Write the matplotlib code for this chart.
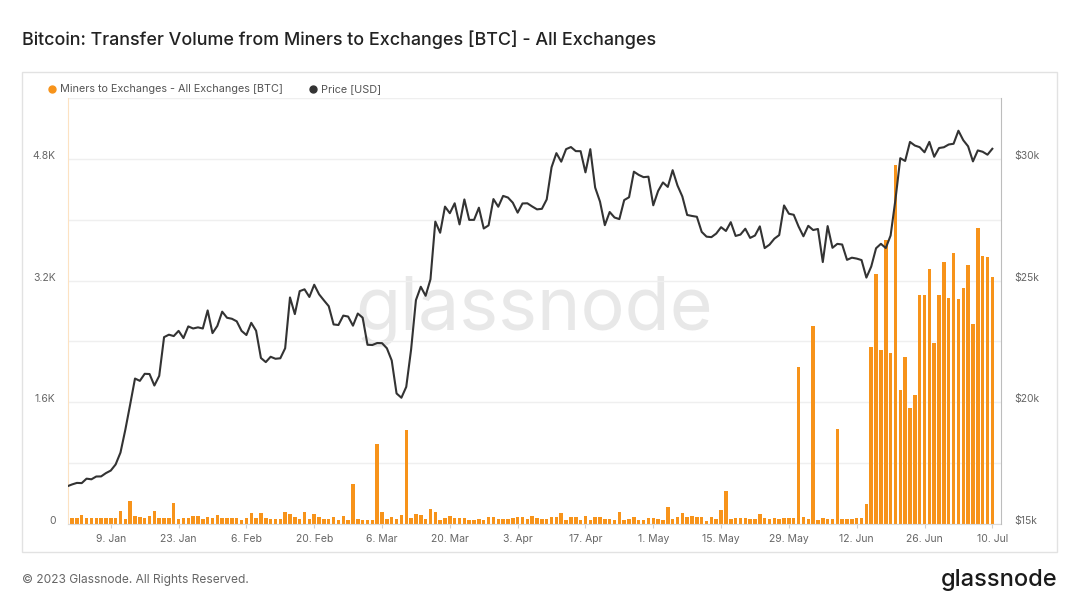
import datetime as dt

import matplotlib.pyplot as plt
from matplotlib.lines import Line2D
from matplotlib.patches import Rectangle
from matplotlib.transforms import ScaledTranslation

plt.rcParams['font.family'] = ['Inter', 'DejaVu Sans']

# daily transfer volume miners -> exchanges [BTC], 1 Jan .. 10 Jul 2023
flow_start = dt.date(2023, 1, 1)
miners_to_exchanges = [
    # Jan
    75, 75, 114, 75, 75, 75, 75, 75, 75, 75, 167, 62, 308, 105, 88, 75, 105, 176, 75, 75,
    75, 272, 62, 75, 75, 105, 105, 62, 88, 75, 114,
    # Feb
    75, 75, 75, 75, 53, 75, 149, 75, 141, 75, 62, 62, 62, 163, 127, 88, 62, 163, 62, 127,
    88, 62, 62, 88, 48, 105, 48, 523,
    # Mar
    62, 48, 48, 48, 1046, 154, 62, 88, 62, 114, 1234, 75, 132, 119, 66, 193, 154, 48, 75, 105,
    75, 75, 75, 48, 48, 62, 48, 88, 97, 62, 62,
    # Apr
    62, 75, 97, 88, 62, 105, 75, 62, 62, 88, 97, 141, 48, 97, 97, 48, 105, 48, 88, 97,
    62, 62, 48, 163, 48, 62, 88, 48, 48, 75,
    # May
    75, 62, 48, 224, 62, 97, 141, 88, 105, 88, 88, 40, 88, 62, 189, 439, 66, 75, 75, 75,
    66, 66, 132, 79, 66, 75, 66, 79, 79, 79, 2070,
    # Jun
    97, 66, 2600, 53, 79, 66, 66, 1250, 66, 66, 66, 79, 79, 264, 2324, 3290, 2289, 3738, 2254, 4714,
    1757, 2197, 1520, 1700, 3005, 3014, 3347, 2385, 3014, 3440,
    # Jul
    2965, 3558, 2956, 3097, 3405, 2623, 3892, 3528, 3514, 3251,
]

# daily price [USD], 31 Dec 2022 .. 10 Jul 2023
price_start = dt.date(2022, 12, 31)
price_usd = [
    16548,
    # Jan
    16625, 16688, 16680, 16863, 16836, 16951, 16955, 17091, 17196, 17446, 17934, 18869, 19909, 20976,
    20880, 21170, 21161, 20688, 21086, 22676, 22777, 22720, 22934, 22636, 23117, 23032, 23078, 23031,
    23774, 22841, 23139,
    # Feb
    23723, 23472, 23431, 23326, 22933, 22763, 23264, 22939, 21819, 21651, 21870, 21788, 21808, 22220,
    24307, 23623, 24565, 24641, 24327, 24829, 24437, 24188, 23947, 23198, 23175, 23561, 23522, 23147,
    # Mar
    23646, 23475, 22362, 22353, 22435, 22429, 22219, 21718, 20363, 20187, 20633, 22163, 24197, 24746,
    24375, 25052, 27423, 26965, 28038, 27767, 28175, 27307, 28333, 27493, 27494, 27994, 27139, 27268,
    28348, 28033, 28478,
    # Apr
    28411, 28199, 27790, 28168, 28175, 28044, 27925, 27947, 28333, 29653, 30235, 29884, 30399, 30485,
    30318, 30315, 29445, 30397, 28823, 28245, 27276, 27817, 27591, 27525, 28307, 28423, 29473, 29341,
    29248, 29268,
    # May
    28092, 28680, 29031, 28848, 29535, 28905, 28455, 27695, 27654, 27621, 27000, 26804, 26784, 26931,
    27193, 27037, 27399, 26833, 26890, 27130, 26753, 26851, 27226, 26334, 26476, 26720, 26869, 28086,
    27746, 27702, 27220,
    # Jun
    26819, 27250, 27076, 27119, 25761, 27239, 26346, 26508, 26481, 25851, 25940, 25903, 25842, 25122,
    25576, 26328, 26510, 26336, 26851, 28328, 30027, 29913, 30695, 30548, 30480, 30271, 30697, 30086,
    30445, 30477,
    # Jul
    30590, 30620, 31156, 30767, 30515, 29896, 30346, 30292, 30171, 30414,
]

left_ticks = [0, 1600, 3200, 4800]
left_labels = ['0', '1.6K', '3.2K', '4.8K']
right_ticks = [15000, 20000, 25000, 30000]
right_labels = ['$15k', '$20k', '$25k', '$30k']
date_ticks = [dt.date(2023, 1, 9) + dt.timedelta(days=14 * k) for k in range(14)]

flow_dates = [flow_start + dt.timedelta(days=i) for i in range(len(miners_to_exchanges))]
price_dates = [price_start + dt.timedelta(days=i) for i in range(len(price_usd))]

ORANGE = '#f7931a'
W, H = 1080, 608

fig = plt.figure(figsize=(10.8, 6.08), dpi=100)
fig.patch.set_facecolor('white')

# card frame
fig.add_artist(Rectangle((22 / W, 1 - 552 / H), (1057 - 22) / W, (552 - 72) / H,
                         transform=fig.transFigure, facecolor='white', edgecolor='#e2e2e2',
                         lw=1, zorder=-1))

ax = fig.add_axes([68 / W, 1 - 524 / H, (1001 - 68) / W, (524 - 98) / H])
ax.set_facecolor('none')
ax2 = ax.twinx()

ax.text(0.5, 0.5, 'glassnode', transform=ax.transAxes, ha='center', va='center',
        fontsize=53, color='#e8e8e8', zorder=0)

ax.bar(flow_dates, miners_to_exchanges, width=0.72, color=ORANGE, zorder=2)
ax2.plot(price_dates, price_usd, color='#333333', lw=1.5, zorder=3)

ax.set_xlim(dt.datetime(2022, 12, 31, 4), dt.datetime(2023, 7, 11, 19))
ax.set_ylim(0, 5600)
ax2.set_ylim(15000, 32500)

ax.set_yticks(left_ticks)
ax.set_yticklabels(left_labels)
ax.set_yticks([800, 2400, 4000, 5600], minor=True)
ax.yaxis.grid(True, which='both', color='#efefef', lw=1, zorder=1)
ax.set_axisbelow(True)
ax2.set_yticks(right_ticks)
ax2.set_yticklabels(right_labels)

ax.set_xticks(date_ticks)
ax.set_xticklabels([f"{d.day}. {d.strftime('%b')}" for d in date_ticks])

ax.tick_params(axis='y', which='both', length=0, pad=9, labelsize=7.5, labelcolor='#666666')
ax2.tick_params(axis='y', length=0, pad=9.5, labelsize=7.5, labelcolor='#666666')
ax.tick_params(axis='x', length=3, color='#d0d0d0', pad=4, labelsize=7.5, labelcolor='#666666')

# tick labels sit slightly above their grid line
shift = ScaledTranslation(0, 4 / 100, fig.dpi_scale_trans)
for lab in ax.get_yticklabels() + ax2.get_yticklabels():
    lab.set_transform(lab.get_transform() + shift)

for s in ['top', 'right']:
    ax.spines[s].set_visible(False)
ax.spines['left'].set_color('#fde2c2')
ax.spines['bottom'].set_color('#d9d9d9')
for s in ['top', 'left', 'bottom']:
    ax2.spines[s].set_visible(False)
ax2.spines['right'].set_color('#bdbdbd')

# legend
fig.add_artist(Line2D([52 / W], [1 - 89 / H], marker='o', ms=5, color=ORANGE, ls='none',
                      transform=fig.transFigure))
fig.text(60 / W, 1 - 89 / H, 'Miners to Exchanges - All Exchanges [BTC]', fontsize=7.8,
         color='#555555', va='center')
fig.add_artist(Line2D([313 / W], [1 - 89 / H], marker='o', ms=5, color='#333333', ls='none',
                      transform=fig.transFigure))
fig.text(321 / W, 1 - 89 / H, 'Price [USD]', fontsize=7.8, color='#555555', va='center')

fig.text(22 / W, 1 - 40 / H, 'Bitcoin: Transfer Volume from Miners to Exchanges [BTC] - All Exchanges',
         fontsize=12.9, fontweight='medium', color='#222222', va='center')
fig.text(22 / W, 1 - 580 / H, '© 2023 Glassnode. All Rights Reserved.', fontsize=8.6,
         color='#666666', va='center')
fig.text(1057 / W, 1 - 580 / H, 'glassnode', fontsize=17, fontweight='medium',
         color='#1a1a1a', ha='right', va='center')

fig.savefig('out.png', dpi=100)
